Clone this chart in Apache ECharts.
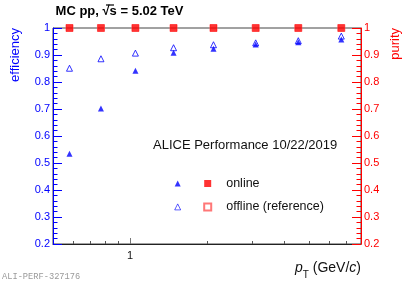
<!DOCTYPE html>
<html><head><meta charset="utf-8">
<script src="https://cdn.jsdelivr.net/npm/echarts@6/dist/echarts.min.js"></script>
<style>html,body{margin:0;padding:0;background:#fff}#c{width:415px;height:281px}</style>
</head><body><div id="c"></div>
<script>
// ---- data ----
const pT = [0.58, 0.77, 1.05, 1.48, 2.12, 3.1, 4.55, 6.7];
const effOnline = [0.534, 0.702, 0.842, 0.908, 0.923, 0.939, 0.947, 0.957];
const effOffline = [0.851, 0.886, 0.907, 0.927, 0.938, 0.945, 0.953, 0.970];
const purOnline = [1, 1, 1, 1, 1, 1, 1, 1];
const purOffline = [1, 1, 1, 1, 1, 1, 1, 1];
const xMinorTicks = [0.6, 0.7, 0.8, 0.9, 2, 3, 4, 5, 6, 7];
const xMajorTicks = [1];
const xTickLabels = ['1'];
const seriesNames = ['eff online', 'eff offline', 'online', 'offline (reference)'];

const BLUE = '#0000ff', RED = '#ff0000';
const FONT = 'Liberation Sans, Arial, Helvetica, sans-serif';
const X_MIN = 0.5, X_MAX = 8;

function pairs(xs, ys) { return xs.map((x, i) => [x, ys[i]]); }
const lg = v => Math.log10(v);

const chart = echarts.init(document.getElementById('c'), null, {renderer: 'canvas'});

const yAxisCommon = (color, pos) => ({
  type: 'value', position: pos, min: 0.2, max: 1, interval: 0.1,
  axisLine: {show: true, onZero: false, lineStyle: {color: color, width: 1}},
  axisTick: {show: true, inside: true, length: 9, lineStyle: {color: color}},
  minorTick: {show: true, splitNumber: 5, length: 4.5, lineStyle: {color: color}},
  splitLine: {show: false},
  axisLabel: {color: color, fontSize: 11, fontFamily: FONT, margin: 3,
    formatter: v => (Math.abs(v - 1) < 1e-9 ? '1' : v.toFixed(1))}
});

const option = {
  animation: false,
  backgroundColor: '#fff',
  grid: {left: 53, right: 54, top: 28, bottom: 37, show: true, borderColor: '#444', borderWidth: 1, backgroundColor: 'transparent'},
  xAxis: [
    { type: 'log', logBase: 10, min: X_MIN, max: X_MAX, position: 'bottom',
      axisLine: {show: true, onZero: false, lineStyle: {color: '#222'}},
      axisTick: {show: false}, axisLabel: {show: false}, splitLine: {show: false}, minorTick: {show: false} },
    { type: 'value', min: lg(X_MIN), max: lg(X_MAX), position: 'bottom',
      axisLine: {show: false, onZero: false},
      axisTick: {show: true, inside: true, length: 3, customValues: xMinorTicks.map(lg), lineStyle: {color: '#555'}},
      axisLabel: {show: false}, splitLine: {show: false} },
    { type: 'value', min: lg(X_MIN), max: lg(X_MAX), position: 'bottom',
      axisLine: {show: false, onZero: false},
      axisTick: {show: true, inside: true, length: 6, customValues: xMajorTicks.map(lg), lineStyle: {color: '#777'}},
      axisLabel: {show: true, customValues: xMajorTicks.map(lg), fontSize: 11, fontFamily: FONT, color: '#111', margin: 6,
        formatter: v => { const i = xMajorTicks.findIndex(t => Math.abs(lg(t) - v) < 1e-9); return i >= 0 ? xTickLabels[i] : ''; }},
      splitLine: {show: false} }
  ],
  yAxis: [ yAxisCommon(BLUE, 'left'), yAxisCommon(RED, 'right') ],
  legend: [
    { orient: 'vertical', left: 174.3, top: 175.5, padding: 0, itemGap: 7.4, itemWidth: 6, itemHeight: 6,
      selectedMode: false, data: [seriesNames[0], seriesNames[1]], formatter: () => ' ',
      itemStyle: {borderWidth: 0.8},
      textStyle: {fontSize: 12.5, lineHeight: 16, fontFamily: FONT} },
    { orient: 'vertical', left: 203.2, top: 175.5, padding: 0, itemGap: 7.4, itemWidth: 7, itemHeight: 7,
      selectedMode: false, data: [seriesNames[2], seriesNames[3]],
      textStyle: {fontSize: 12.5, lineHeight: 16, fontFamily: FONT, color: '#111', padding: [0, 0, 0, 10]} }
  ],
  series: [
    { name: seriesNames[3], type: 'scatter', xAxisIndex: 0, yAxisIndex: 1, clip: false,
      symbol: 'rect', symbolSize: 7, data: pairs(pT, purOffline),
      itemStyle: {color: 'rgba(255,255,255,0)', borderColor: '#ff5555', borderWidth: 1} },
    { name: seriesNames[2], type: 'scatter', xAxisIndex: 0, yAxisIndex: 1, clip: false,
      symbol: 'rect', symbolSize: 7, data: pairs(pT, purOnline),
      itemStyle: {color: RED} },
    { name: seriesNames[0], type: 'scatter', xAxisIndex: 0, yAxisIndex: 0, clip: false,
      symbol: 'triangle', symbolSize: 6, data: pairs(pT, effOnline),
      itemStyle: {color: BLUE} },
    { name: seriesNames[1], type: 'scatter', xAxisIndex: 0, yAxisIndex: 0, clip: false,
      symbol: 'triangle', symbolSize: 6, data: pairs(pT, effOffline),
      itemStyle: {color: 'rgba(255,255,255,0)', borderColor: BLUE, borderWidth: 1} }
  ],
  graphic: [
    { type: 'text', x: 119.5, y: 11.5, style: {text: 'MC pp, \u221As = 5.02 TeV', font: 'bold 13px ' + FONT, fill: '#000', align: 'center', verticalAlign: 'middle'} },
    { type: 'line', shape: {x1: 106, y1: 5, x2: 114, y2: 5}, style: {stroke: '#000', lineWidth: 1.2} },
    { type: 'text', x: 15, y: 28, rotation: Math.PI / 2, style: {text: 'efficiency', font: '13px ' + FONT, fill: BLUE, align: 'right', verticalAlign: 'middle'} },
    { type: 'text', x: 395, y: 28, rotation: Math.PI / 2, style: {text: 'purity', font: '13px ' + FONT, fill: RED, align: 'right', verticalAlign: 'middle'} },
    { type: 'text', x: 153, y: 145, style: {text: 'ALICE Performance 10/22/2019', font: '13px ' + FONT, fill: '#111', align: 'left', verticalAlign: 'middle'} },
    { type: 'text', x: 361, y: 268, style: {
        text: '{i|p}{s|T}{n| (GeV/}{i|c}{n|)}', align: 'right', verticalAlign: 'middle',
        rich: {
          i: {fontFamily: FONT, fontStyle: 'italic', fontSize: 14, lineHeight: 24, verticalAlign: 'middle', fill: '#111'},
          n: {fontFamily: FONT, fontSize: 14, lineHeight: 24, verticalAlign: 'middle', fill: '#111'},
          s: {fontFamily: FONT, fontSize: 10, lineHeight: 10, verticalAlign: 'bottom', fill: '#111'}
        }} },
    { type: 'text', x: 2, y: 276.5, style: {text: 'ALI-PERF-327176', font: '8.7px Liberation Mono, Courier New, monospace', fill: '#9a9a9a', align: 'left', verticalAlign: 'middle'} }
  ]
};
chart.setOption(option);
</script></body></html>
